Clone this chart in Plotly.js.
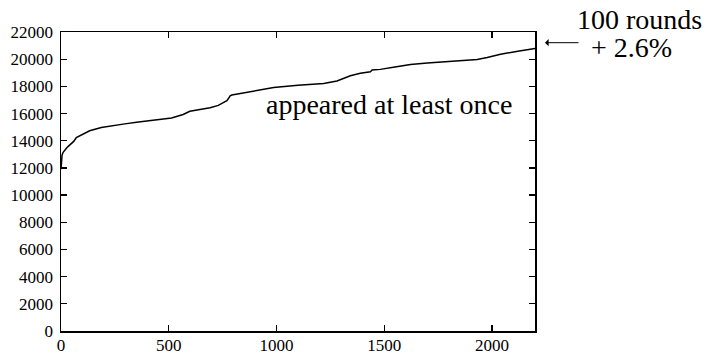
<!DOCTYPE html>
<html>
<head>
<meta charset="utf-8">
<script src="https://cdn.plot.ly/plotly-3.0.1.min.js"></script>
<style>html,body{margin:0;padding:0;background:#fff;}#chart{width:705px;height:354px;}</style>
</head>
<body>
<div id="chart"></div>
<script>
// x: position (0..2200), y: count of items that appeared at least once
var xValues = [0, 1, 3, 5, 10, 17, 28, 40, 60, 71, 95, 133, 187, 240, 296, 360, 420, 480, 513, 540, 567, 598, 637, 692, 730, 754, 770, 778, 785, 793, 847, 900, 987, 1100, 1219, 1281, 1343, 1389, 1436, 1444, 1482, 1550, 1622, 1700, 1777, 1850, 1932, 1978, 2040, 2120, 2200];
var yValues = [11900, 12300, 12700, 12950, 13150, 13320, 13500, 13680, 13970, 14240, 14410, 14730, 14970, 15120, 15240, 15380, 15510, 15610, 15680, 15800, 15930, 16170, 16270, 16430, 16600, 16800, 16950, 17120, 17300, 17360, 17530, 17700, 17920, 18080, 18210, 18400, 18780, 18960, 19080, 19200, 19250, 19430, 19610, 19710, 19800, 19870, 19970, 20120, 20370, 20580, 20790];
var xTicks = [0, 500, 1000, 1500, 2000];
var yTicks = [0, 2000, 4000, 6000, 8000, 10000, 12000, 14000, 16000, 18000, 20000, 22000];
var curveLabel = "appeared at least once";
var noteLine1 = "100 rounds";
var noteLine2 = "+ 2.6%";

var serif = "Liberation Serif";

var trace = {
  x: xValues, y: yValues, type: "scatter", mode: "lines",
  line: {color: "#000", width: 1.5}, hoverinfo: "skip", showlegend: false
};

var axisCommon = {
  showgrid: false, zeroline: false, showline: true, linecolor: "#000", linewidth: 1.5,
  ticks: "inside", ticklen: 6, tickwidth: 1.2, tickcolor: "#000", mirror: "ticks",
  tickfont: {family: serif, size: 17, color: "#000"}, tickmode: "array", fixedrange: true
};

var layout = {
  width: 705, height: 354,
  margin: {l: 61, r: 170, t: 32, b: 23},
  paper_bgcolor: "#fff", plot_bgcolor: "#fff",
  font: {family: serif, color: "#000"},
  xaxis: Object.assign({}, axisCommon, {range: [0, 2200], tickvals: xTicks, ticktext: xTicks.map(String), ticklabelstandoff: -2}),
  yaxis: Object.assign({}, axisCommon, {range: [0, 22000], tickvals: yTicks, ticktext: yTicks.map(String), ticklabelstandoff: 3}),
  annotations: [
    {xref: "paper", yref: "paper", x: 0.692, y: 0.756, text: curveLabel, showarrow: false,
     font: {family: serif, size: 28, color: "#000"}, xanchor: "center", yanchor: "middle"},
    {xref: "paper", yref: "paper", x: (639.5 - 61) / 474, y: (331 - 19) / 299, text: noteLine1, showarrow: false,
     font: {family: serif, size: 28, color: "#000"}, xanchor: "center", yanchor: "middle"},
    {xref: "paper", yref: "paper", x: (631.5 - 61) / 474, y: (331 - 48) / 299, text: noteLine2, showarrow: false,
     font: {family: serif, size: 28, color: "#000"}, xanchor: "center", yanchor: "middle"},
    {xref: "paper", yref: "paper", x: (545 - 61) / 474, y: (331 - 42.7) / 299, text: "", showarrow: true,
     ax: 35, ay: 0, arrowhead: 1, arrowsize: 1.2, arrowwidth: 1, arrowcolor: "#000", standoff: 0}
  ]
};

Plotly.newPlot("chart", [trace], layout, {displayModeBar: false, staticPlot: true});
</script>
</body>
</html>
